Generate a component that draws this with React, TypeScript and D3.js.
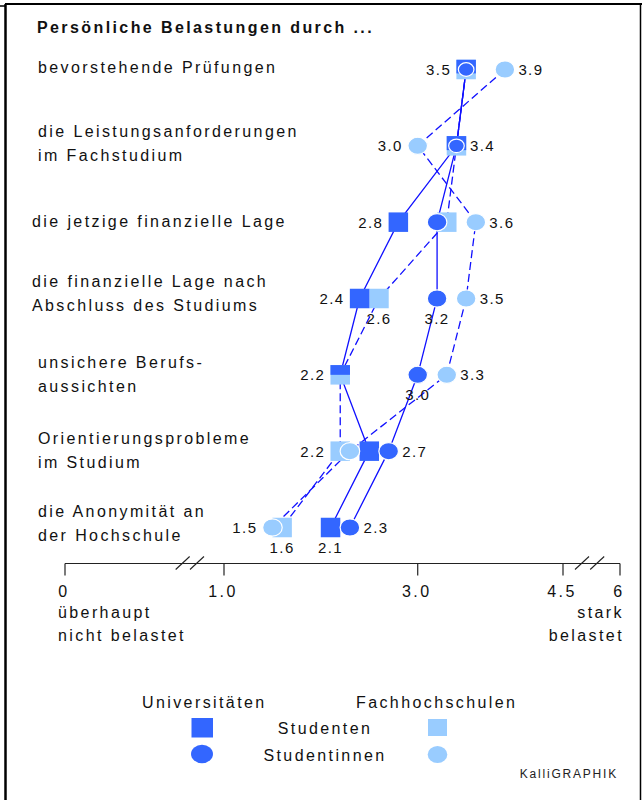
import React from "react";
import * as d3 from "d3";

const title = "Persönliche Belastungen durch ...";
const categories: string[][] = [
  ["bevorstehende Prüfungen"],
  ["die Leistungsanforderungen", "im Fachstudium"],
  ["die jetzige finanzielle Lage"],
  ["die finanzielle Lage nach", "Abschluss des Studiums"],
  ["unsichere Berufs-", "aussichten"],
  ["Orientierungsprobleme", "im Studium"],
  ["die Anonymität an", "der Hochschule"],
];
const uniStudenten = [3.5, 3.4, 2.8, 2.4, 2.2, 2.5, 2.1];
const uniStudentinnen = [3.5, 3.4, 3.2, 3.2, 3.0, 2.7, 2.3];
const fhStudenten = [3.5, 3.4, 3.3, 2.6, 2.2, 2.2, 1.6];
const fhStudentinnen = [3.9, 3.0, 3.6, 3.5, 3.3, 2.3, 1.5];

type SeriesKey = "uniStudenten" | "uniStudentinnen" | "fhStudenten" | "fhStudentinnen";
const valueLabels: { row: number; series: SeriesKey; pos: "left" | "right" | "below" }[] = [
  { row: 0, series: "uniStudenten", pos: "left" },
  { row: 0, series: "fhStudentinnen", pos: "right" },
  { row: 1, series: "fhStudentinnen", pos: "left" },
  { row: 1, series: "uniStudenten", pos: "right" },
  { row: 2, series: "uniStudenten", pos: "left" },
  { row: 2, series: "fhStudentinnen", pos: "right" },
  { row: 3, series: "uniStudenten", pos: "left" },
  { row: 3, series: "fhStudenten", pos: "below" },
  { row: 3, series: "uniStudentinnen", pos: "below" },
  { row: 3, series: "fhStudentinnen", pos: "right" },
  { row: 4, series: "uniStudenten", pos: "left" },
  { row: 4, series: "uniStudentinnen", pos: "below" },
  { row: 4, series: "fhStudentinnen", pos: "right" },
  { row: 5, series: "fhStudenten", pos: "left" },
  { row: 5, series: "uniStudentinnen", pos: "right" },
  { row: 6, series: "fhStudentinnen", pos: "left" },
  { row: 6, series: "fhStudenten", pos: "below" },
  { row: 6, series: "uniStudenten", pos: "below" },
  { row: 6, series: "uniStudentinnen", pos: "right" },
];

const axisTicks = [0, 1.0, 3.0, 4.5, 6];
const axisTickLabels = ["0", "1.0", "3.0", "4.5", "6"];
const axisBreaks = [0.74, 0.83, 5.0, 5.4];
const axisLeftText = ["überhaupt", "nicht belastet"];
const axisRightText = ["stark", "belastet"];

const legendGroups = ["Universitäten", "Fachhochschulen"];
const legendRows = ["Studenten", "Studentinnen"];
const credit = "KalliGRAPHIK";

// layout
const labelIndent = [38, 38, 32, 32, 38, 38, 38];
const labelDy = [3.5, -9, 5, -11.5, -6.5, -7.5, -10.5];
const squareSplit = [0.7, 0.72, 0, 0, 0.5, 0, 0];

const DARK = "#3366ff";
const LIGHT = "#99ccff";
const LINE = "#1010ff";
const FONT = "'Liberation Sans', Arial, Helvetica, sans-serif";
const LS = 2.4;

export default function App() {
  const W = 642, H = 800;
  const series: Record<SeriesKey, number[]> = { uniStudenten, uniStudentinnen, fhStudenten, fhStudentinnen };
  const x = d3.scaleLinear().domain([0, 1, 4.5, 6]).range([65, 224, 563, 620]);
  const y = d3.scalePoint<number>().domain(d3.range(categories.length)).range([69.5, 527.5]);
  const line = d3
    .line<number>()
    .x((d) => x(d))
    .y((_, i) => y(i)!);
  const SQ = 19.5;
  const RX = 9.8, RY = 8.6;
  const axisY = 563.5;

  return (
    <svg
      width={W}
      height={H}
      style={{ position: "absolute", left: 0, top: 0, background: "#fff" }}
      fontFamily={FONT}
    >
      <rect x={0} y={0} width={W} height={H} fill="#fff" />
      {/* frame */}
      <line x1={5.5} y1={4} x2={5.5} y2={H} stroke="#000" strokeWidth={2.5} />
      <line x1={5} y1={4} x2={W} y2={4} stroke="#000" strokeWidth={2} />
      <line x1={0} y1={6} x2={5} y2={6} stroke="#000" strokeWidth={1.5} />
      <line x1={640.5} y1={4} x2={640.5} y2={H} stroke="#000" strokeWidth={1.5} />

      <text x={37} y={33} fontSize={16} fontWeight="bold" style={{ letterSpacing: LS }} fill="#111">
        {title}
      </text>

      {categories.map((lines, i) => (
        <text key={i} x={labelIndent[i]} y={y(i)! + labelDy[i]} fontSize={16} style={{ letterSpacing: LS }} fill="#111">
          {lines.map((l, j) => (
            <tspan key={j} x={labelIndent[i]} dy={j === 0 ? 0 : 24}>
              {l}
            </tspan>
          ))}
        </text>
      ))}

      {/* connecting lines */}
      <path d={line(uniStudenten)!} fill="none" stroke={LINE} strokeWidth={1.3} />
      <path d={line(uniStudentinnen)!} fill="none" stroke={LINE} strokeWidth={1.3} />
      <path d={line(fhStudenten)!} fill="none" stroke={LINE} strokeWidth={1.3} strokeDasharray="8,4" />
      <path d={line(fhStudentinnen)!} fill="none" stroke={LINE} strokeWidth={1.3} strokeDasharray="8,4" />

      {/* squares */}
      {fhStudenten.map((v, i) => (
        <rect key={"fs" + i} x={x(v) - SQ / 2} y={y(i)! - SQ / 2} width={SQ} height={SQ} fill={LIGHT} />
      ))}
      {uniStudenten.map((v, i) => {
        const split = v === fhStudenten[i] ? squareSplit[i] || 1 : 1;
        return <rect key={"us" + i} x={x(v) - SQ / 2} y={y(i)! - SQ / 2} width={SQ} height={SQ * split} fill={DARK} />;
      })}
      {/* circles */}
      {fhStudentinnen.map((v, i) => (
        <ellipse key={"fc" + i} cx={x(v)} cy={y(i)!} rx={RX} ry={RY} fill={LIGHT} stroke="#fff" strokeWidth={1.2} />
      ))}
      {uniStudentinnen.map((v, i) => {
        const inside = v === uniStudenten[i];
        return (
          <ellipse
            key={"uc" + i}
            cx={x(v)}
            cy={y(i)!}
            rx={inside ? 7.8 : RX}
            ry={inside ? 6.8 : RY}
            fill={DARK}
            stroke="#fff"
            strokeWidth={1.2}
          />
        );
      })}

      {/* value labels */}
      {valueLabels.map((l, k) => {
        const v = series[l.series][l.row];
        const cx = x(v), cy = y(l.row)!;
        const tx = l.pos === "left" ? cx - 15 : l.pos === "right" ? cx + 13.5 : cx;
        const ty = l.pos === "below" ? cy + 25.5 : cy + 5.5;
        const anchor = l.pos === "left" ? "end" : l.pos === "right" ? "start" : "middle";
        return (
          <text key={k} x={tx} y={ty} fontSize={15} textAnchor={anchor} style={{ letterSpacing: 1.4 }} fill="#111">
            {d3.format(".1f")(v)}
          </text>
        );
      })}

      {/* axis */}
      <line x1={x(0)} y1={axisY} x2={x(6)} y2={axisY} stroke="#222" strokeWidth={1.2} />
      {axisTicks.map((t, i) => (
        <g key={i}>
          <line x1={x(t)} y1={axisY} x2={x(t)} y2={axisY + 12} stroke="#222" strokeWidth={1.2} />
          <text x={x(t) - 1} y={597} fontSize={16} textAnchor="middle" style={{ letterSpacing: LS }} fill="#111">
            {axisTickLabels[i]}
          </text>
        </g>
      ))}
      {axisBreaks.map((b, i) => (
        <line key={i} x1={x(b) - 7} y1={axisY + 6} x2={x(b) + 7} y2={axisY - 7} stroke="#222" strokeWidth={1.1} />
      ))}
      {axisLeftText.map((t, i) => (
        <text key={i} x={58} y={618 + i * 23} fontSize={16} style={{ letterSpacing: LS }} fill="#111">
          {t}
        </text>
      ))}
      {axisRightText.map((t, i) => (
        <text key={i} x={624} y={618 + i * 23} fontSize={16} textAnchor="end" style={{ letterSpacing: LS }} fill="#111">
          {t}
        </text>
      ))}

      {/* legend */}
      <text x={142} y={708} fontSize={16} style={{ letterSpacing: LS }} fill="#111">{legendGroups[0]}</text>
      <text x={356} y={708} fontSize={16} style={{ letterSpacing: LS }} fill="#111">{legendGroups[1]}</text>
      <text x={325} y={734} fontSize={16} textAnchor="middle" style={{ letterSpacing: LS }} fill="#111">{legendRows[0]}</text>
      <text x={325} y={761} fontSize={16} textAnchor="middle" style={{ letterSpacing: LS }} fill="#111">{legendRows[1]}</text>
      <rect x={191.5} y={718} width={21.5} height={19.5} fill={DARK} />
      <rect x={428} y={719} width={19} height={17} fill={LIGHT} />
      <ellipse cx={202} cy={754} rx={11} ry={9.2} fill={DARK} />
      <ellipse cx={437.5} cy={754.5} rx={9.8} ry={8.6} fill={LIGHT} />

      <text x={618} y={778} fontSize={12} textAnchor="end" style={{ letterSpacing: 1.8 }} fill="#222">
        {credit}
      </text>
    </svg>
  );
}
